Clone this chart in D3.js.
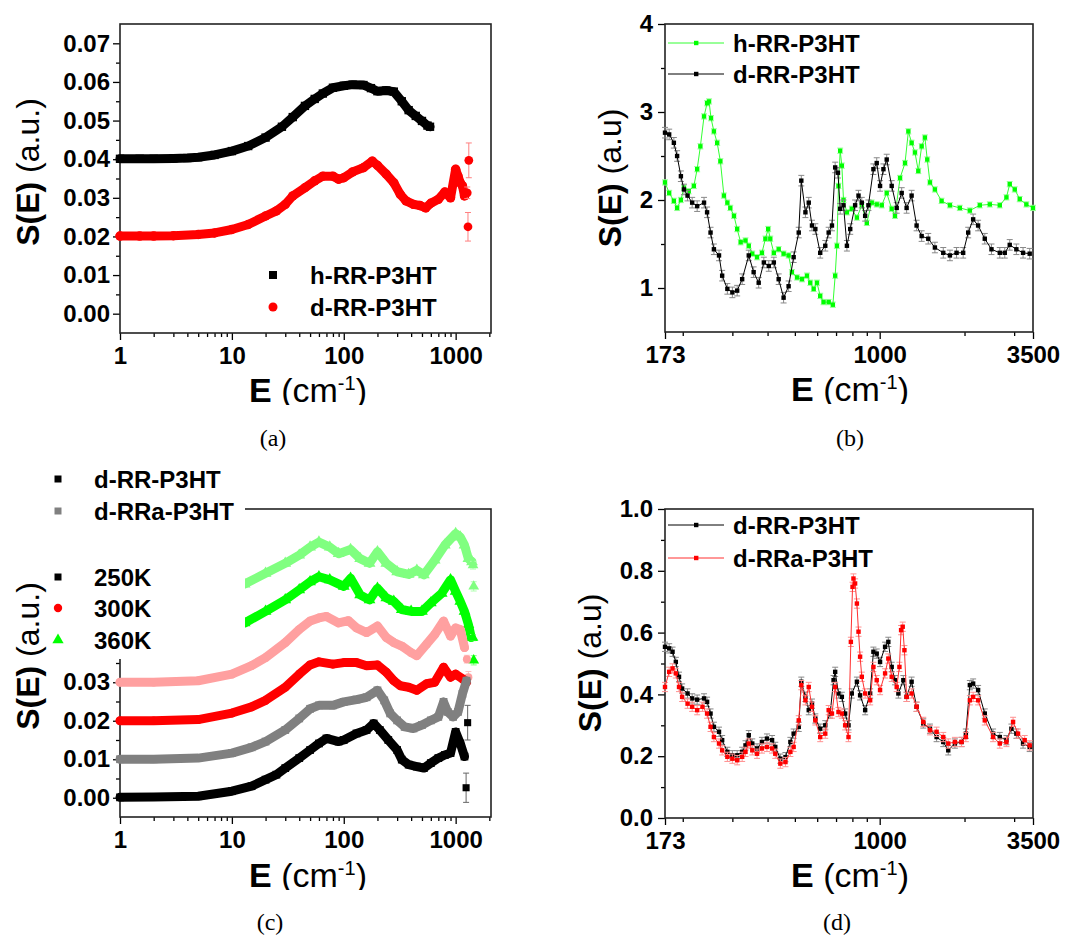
<!DOCTYPE html>
<html lang="en">
<head>
<meta charset="UTF-8">
<title>S(E) spectra of P3HT</title>
<script src="https://d3js.org/d3.v7.min.js"></script>
<style>
  body { margin: 0; background: #fff; }
  svg { display: block; font-family: 'Liberation Sans', Arial, sans-serif; }
  .tick text { font-family: 'Liberation Sans', Arial, sans-serif; font-size: 24px; font-weight: 700; fill: #000; }
  .tick line { stroke: #000; stroke-width: 1.3px; }
  .leg { font-size: 24px; font-weight: 700; fill: #000; }
  .ytitle { font-size: 32px; fill: #000; }
  .xtitle { font-size: 34px; fill: #000; }
  .caption { font-family: 'Liberation Serif', 'DejaVu Serif', serif; font-size: 24px; fill: #000; }
</style>
</head>
<body>
<svg id="fig" width="1083" height="936"></svg>
<script>
// ---- panel (a) : h-RR vs d-RR
const aE_h = [1,1.5,2,3,4,5,7,10,14,20,28,35,45,55,65,80,100,120,150,175,200,240,280,330,380,440,500,560,590];
const aS_h = [0.0401,0.0401,0.0401,0.0402,0.0403,0.0405,0.0411,0.0421,0.0434,0.0456,0.0484,0.0509,0.0538,0.0556,0.0570,0.0585,0.0590,0.0593,0.0592,0.0584,0.0576,0.0578,0.0575,0.0550,0.0527,0.0512,0.0499,0.0487,0.0484];
const aE_d = [1,1.5,2,3,5,7,10,14,20,25,30,35,45,55,65,80,90,100,120,150,180,200,240,280,320,360,420,480,540,600,700,800,900,1000,1050,1100,1150,1200];
const aS_d = [0.0201,0.0201,0.0201,0.0202,0.0205,0.0209,0.0218,0.0231,0.0253,0.0266,0.0283,0.0305,0.0326,0.0344,0.0356,0.0356,0.0348,0.0352,0.0367,0.0378,0.0395,0.0384,0.0361,0.0339,0.0309,0.0292,0.0283,0.0280,0.0274,0.0286,0.0296,0.0315,0.0300,0.0374,0.0356,0.0339,0.0331,0.0305];
const aE_dTail = [1270,1289,1311];
const aS_dTail = [0.0313,0.0225,0.0397];
const aErr_dTail = [0.0015,0.0037,0.0045];

// ---- panel (b) : 173-3500 cm-1, h-RR vs d-RR
const bE_h = [173,179,186,191,197,202,210,219,225,231,238,244,248,252,258,265,272,280,288,295,304,312,321,334,343,353,367,382,393,402,409,421,438,456,475,488,509,530,552,567,583,599,615,632,659,682,695,705,714,724,734,744,765,796,830,864,900,937,976,1017,1059,1103,1133,1181,1230,1264,1298,1334,1371,1409,1447,1475,1508,1570,1658,1775,1925,2089,2266,2459,2668,2817,2894,3015,3140,3315,3500];
const bS_h = [2.20,2.08,1.99,1.91,2.00,2.14,2.10,2.16,2.35,2.61,2.95,3.10,3.12,2.93,2.78,2.65,2.44,2.05,1.97,1.91,1.82,1.67,1.52,1.54,1.48,1.39,1.35,1.40,1.56,1.67,1.56,1.40,1.44,1.39,1.37,1.18,1.12,1.10,1.14,1.06,0.99,1.06,0.91,0.84,0.84,0.81,1.14,1.48,2.16,2.56,2.39,2.00,1.86,1.90,1.80,1.94,1.74,1.97,1.95,1.94,2.08,1.90,1.82,2.25,2.42,2.78,2.65,2.54,2.33,2.61,2.71,2.46,2.20,2.12,1.99,1.94,1.91,1.88,1.94,1.95,1.94,2.03,2.18,2.12,2.01,1.95,1.91];
const bE_d = [173,179,186,191,197,202,208,216,225,238,244,251,258,269,276,288,300,312,325,343,357,372,388,404,421,438,456,475,495,516,527,545,560,575,591,615,641,659,677,695,711,724,744,765,786,818,841,864,888,912,950,976,1003,1031,1059,1103,1149,1197,1246,1298,1352,1409,1487,1570,1681,1775,1874,1978,2061,2146,2235,2360,2493,2668,2779,2894,3055,3227,3407];
const bS_d = [2.765,2.745,2.65,2.50,2.27,2.12,2.05,1.97,1.93,1.97,1.86,1.63,1.44,1.37,1.14,0.99,0.95,0.97,1.10,1.37,1.18,1.06,1.29,1.25,1.29,1.10,0.89,1.02,1.35,1.63,2.22,1.86,1.97,1.71,1.67,1.40,1.48,1.63,1.71,2.37,2.31,1.90,1.94,1.48,1.67,1.94,2.05,1.97,1.82,1.94,2.35,2.42,2.16,2.35,2.46,2.16,1.91,2.08,1.91,2.05,1.71,1.59,1.56,1.46,1.40,1.37,1.40,1.40,1.63,1.78,1.71,1.56,1.44,1.40,1.40,1.49,1.44,1.40,1.39];
const bErr_h = 0.03;
const bErr_d = 0.06;

// ---- panel (c) : temperature series, offset curves
const cE_rr250 = [1,2,5,10,15,20,25,30,40,50,60,70,90,100,130,160,185,210,250,300,330,380,450,520,600,700,800,900,1000,1100,1200];
const cS_rr250 = [0.0001,0.0002,0.0004,0.0017,0.0030,0.0047,0.0060,0.0077,0.0103,0.0124,0.0141,0.0154,0.0146,0.0150,0.0167,0.0176,0.0193,0.0176,0.0150,0.0124,0.0099,0.0086,0.0081,0.0077,0.0090,0.0103,0.0111,0.0116,0.0171,0.0141,0.0107];
const cE_rr250Tail = [1240,1280];
const cS_rr250Tail = [0.0026,0.0195];
const cErr_rr250Tail = [0.0038,0.0045];
const cE_rra250 = [1,2,5,10,15,20,30,40,50,60,80,100,130,160,200,230,260,300,350,420,500,600,700,780,850,950,1050,1150,1250];
const cS_rra250 = [0.0100,0.0100,0.0103,0.0116,0.0131,0.0146,0.0176,0.0206,0.0231,0.0240,0.0240,0.0249,0.0255,0.0261,0.0279,0.0253,0.0219,0.0201,0.0184,0.0180,0.0189,0.0201,0.0210,0.0249,0.0223,0.0210,0.0223,0.0270,0.0304];
const cE_rr300 = [1,2,5,10,15,20,30,40,50,60,80,100,130,160,200,240,280,320,380,450,550,650,780,900,1000,1150,1250];
const cS_rr300 = [0.0200,0.0200,0.0203,0.0220,0.0236,0.0253,0.0287,0.0321,0.0345,0.0353,0.0347,0.0351,0.0351,0.0343,0.0345,0.0326,0.0304,0.0291,0.0287,0.0279,0.0296,0.0300,0.0339,0.0313,0.0321,0.0309,0.0300];
const cE_rra300 = [1,2,5,10,15,20,30,40,50,60,70,90,110,130,160,200,240,280,330,400,450,550,650,780,900,1000,1100,1200];
const cS_rra300 = [0.0300,0.0300,0.0304,0.0321,0.0343,0.0364,0.0403,0.0437,0.0459,0.0467,0.0471,0.0454,0.0460,0.0441,0.0429,0.0446,0.0416,0.0403,0.0394,0.0377,0.0369,0.0399,0.0424,0.0459,0.0420,0.0441,0.0437,0.0390];
const cE_rra300Tail = [1260,1300];
const cS_rra300Tail = [0.0360,0.0313];
const cErr_rra300Tail = [0.0010,0.0015];
const cE_rr360 = [13,20,30,40,50,60,75,100,115,140,170,200,240,280,330,400,500,600,750,900,1000,1100,1200,1300,1380];
const cS_rr360 = [0.0454,0.0484,0.0514,0.0540,0.0561,0.0574,0.0566,0.0549,0.0570,0.0527,0.0514,0.0544,0.0519,0.0510,0.0489,0.0484,0.0484,0.0506,0.0531,0.0566,0.0536,0.0510,0.0484,0.0450,0.0416];
const cE_rr360Tail = [1430,1450];
const cS_rr360Tail = [0.0416,0.0357];
const cErr_rr360Tail = [0.0008,0.0012];
const cE_rra360 = [13,20,30,40,50,60,75,90,115,140,170,200,240,300,380,450,520,650,800,1000,1100,1200,1300,1400];
const cS_rra360 = [0.0555,0.0583,0.0609,0.0630,0.0651,0.0664,0.0651,0.0634,0.0645,0.0621,0.0609,0.0639,0.0609,0.0587,0.0580,0.0591,0.0579,0.0617,0.0656,0.0686,0.0677,0.0656,0.0621,0.0613];
const cE_rra360Tail = [1430,1450];
const cS_rra360Tail = [0.0604,0.0549];
const cErr_rra360Tail = [0.0010,0.0012];

// ---- panel (d) : 173-3500 cm-1, d-RR vs d-RRa
const dE_rr = [173,179,184,189,194,199,208,216,225,238,244,251,258,269,276,288,300,312,325,334,343,353,367,382,398,415,426,444,463,482,495,516,527,545,560,575,591,615,641,667,686,695,714,734,754,775,796,830,852,888,925,950,976,1003,1045,1073,1103,1133,1165,1213,1246,1298,1352,1428,1508,1592,1681,1751,1849,1952,2022,2089,2146,2235,2360,2526,2668,2817,2934,3055,3227,3407];
const dS_rr = [0.554,0.549,0.538,0.505,0.457,0.419,0.403,0.387,0.383,0.387,0.376,0.338,0.295,0.279,0.252,0.214,0.203,0.203,0.214,0.235,0.268,0.241,0.225,0.246,0.257,0.252,0.230,0.192,0.197,0.246,0.273,0.295,0.441,0.392,0.349,0.370,0.322,0.289,0.300,0.338,0.446,0.473,0.403,0.392,0.338,0.300,0.403,0.441,0.397,0.349,0.403,0.538,0.532,0.505,0.554,0.570,0.489,0.446,0.403,0.446,0.392,0.441,0.360,0.306,0.289,0.262,0.246,0.219,0.241,0.246,0.273,0.430,0.435,0.414,0.338,0.273,0.262,0.252,0.289,0.273,0.241,0.230];
const dE_rra = [173,179,184,189,194,199,208,216,225,235,244,251,258,269,276,288,300,312,325,334,343,353,367,382,398,415,426,444,463,482,495,516,527,545,560,575,591,615,641,659,677,695,714,734,754,775,790,801,807,818,830,841,852,864,888,925,950,976,1003,1045,1073,1103,1149,1175,1191,1207,1224,1246,1298,1352,1428,1508,1592,1681,1751,1849,1952,2022,2089,2146,2235,2360,2526,2668,2817,2974,3097,3270,3407];
const dS_rra = [0.424,0.473,0.484,0.468,0.424,0.392,0.370,0.360,0.349,0.360,0.338,0.295,0.262,0.241,0.219,0.198,0.192,0.187,0.198,0.214,0.241,0.219,0.208,0.225,0.230,0.225,0.208,0.176,0.181,0.214,0.230,0.316,0.430,0.381,0.424,0.360,0.316,0.262,0.273,0.349,0.338,0.424,0.343,0.338,0.300,0.262,0.570,0.748,0.775,0.759,0.694,0.603,0.522,0.457,0.403,0.381,0.489,0.446,0.414,0.468,0.516,0.457,0.424,0.489,0.608,0.619,0.543,0.392,0.403,0.360,0.311,0.284,0.279,0.262,0.241,0.246,0.246,0.262,0.381,0.392,0.381,0.316,0.262,0.241,0.246,0.311,0.273,0.252,0.235];
const dErr = 0.015;

// ticks
const logMajor = [1,10,100,1000];
const logMinor = [2,3,4,5,6,7,8,9,20,30,40,50,60,70,80,90,200,300,400,500,600,700,800,900,2000];
const wideMajor = [173,1000,3500];
const wideMinor = [200,300,400,500,600,700,800,900,2000,3000];

const svg = d3.select("#fig");

function axes(box, x, y, o) {
  const g = svg.append("g");
  g.append("g").attr("transform", `translate(0,${box.b})`)
    .call(d3.axisBottom(x).tickValues(o.xMinor).tickSize(4).tickFormat(""));
  g.append("g").attr("transform", `translate(0,${box.b})`)
    .call(d3.axisBottom(x).tickValues(o.xMajor).tickSize(7).tickPadding(7).tickFormat(d3.format("d")));
  g.append("g").attr("transform", `translate(${box.l},0)`)
    .call(d3.axisLeft(y).tickValues(o.yMinor).tickSize(4).tickFormat(""));
  g.append("g").attr("transform", `translate(${box.l},0)`)
    .call(d3.axisLeft(y).tickValues(o.yMajor).tickSize(7).tickPadding(o.yPad).tickFormat(d3.format(o.yFmt)));
  g.selectAll(".domain").remove();
  g.append("rect")
    .attr("x", box.l).attr("y", box.t).attr("width", box.r - box.l).attr("height", box.b - box.t)
    .attr("fill", "none").attr("stroke", "#222").attr("stroke-width", 1.6);
}

function xTitle(cx, by, clipY) {
  const id = "clip" + Math.round(cx) + "_" + Math.round(by);
  svg.append("clipPath").attr("id", id)
    .append("rect").attr("x", cx - 200).attr("y", by - 60).attr("width", 400).attr("height", clipY - by + 60);
  const t = svg.append("text").attr("class", "xtitle").attr("clip-path", `url(#${id})`)
    .attr("x", cx).attr("y", by).attr("text-anchor", "middle");
  t.append("tspan").attr("font-weight", 700).text("E");
  t.append("tspan").text(" (cm");
  t.append("tspan").attr("font-size", 20).attr("dy", -12).text("-1");
  t.append("tspan").attr("dy", 12).text(")");
}

function yTitle(bx, cy, unit) {
  const t = svg.append("text").attr("class", "ytitle")
    .attr("transform", `translate(${bx},${cy}) rotate(-90)`).attr("text-anchor", "middle");
  t.append("tspan").attr("font-weight", 700).text("S(E)");
  t.append("tspan").text(" " + unit);
}

function caption(cx, by, s) {
  svg.append("text").attr("class", "caption").attr("x", cx).attr("y", by)
    .attr("text-anchor", "middle").text(s);
}

// thick dense-marker band used in (a) and (c)
function band(x, y, E, S, color, width, sym, size) {
  const pts = E.map((e, i) => [x(e), y(S[i])]);
  svg.append("path").attr("d", d3.line()(pts))
    .attr("fill", "none").attr("stroke", color).attr("stroke-width", width)
    .attr("stroke-linejoin", "round").attr("stroke-linecap", "round");
  svg.append("g").selectAll("path").data(pts).join("path")
    .attr("transform", d => `translate(${d[0]},${d[1]})`)
    .attr("d", d3.symbol(sym, size)).attr("fill", color);
}

function tail(x, y, E, S, err, color, barColor, sym, size) {
  const g = svg.append("g");
  E.forEach((e, i) => {
    const px = x(e), y0 = y(S[i] - err[i]), y1 = y(S[i] + err[i]);
    g.append("line").attr("x1", px).attr("x2", px).attr("y1", y0).attr("y2", y1).attr("stroke", barColor);
    [y0, y1].forEach(yy => g.append("line").attr("x1", px - 3).attr("x2", px + 3).attr("y1", yy).attr("y2", yy).attr("stroke", barColor));
    g.append("path").attr("transform", `translate(${px},${y(S[i])})`)
      .attr("d", d3.symbol(sym, size)).attr("fill", color);
  });
}

// thin line + small squares + error bars used in (b) and (d)
function errSeries(x, y, E, S, err, color, lineColor, barColor) {
  const g = svg.append("g");
  E.forEach((e, i) => {
    const px = x(e), y0 = y(S[i] - err), y1 = y(S[i] + err);
    g.append("line").attr("x1", px).attr("x2", px).attr("y1", y0).attr("y2", y1).attr("stroke", barColor);
    [y0, y1].forEach(yy => g.append("line").attr("x1", px - 3).attr("x2", px + 3).attr("y1", yy).attr("y2", yy).attr("stroke", barColor));
  });
  g.append("path").attr("d", d3.line().x((d, i) => x(E[i])).y(d => y(d))(S))
    .attr("fill", "none").attr("stroke", lineColor).attr("stroke-width", 1);
  g.selectAll("rect").data(S).join("rect")
    .attr("x", (d, i) => x(E[i]) - 2.2).attr("y", d => y(d) - 2.2)
    .attr("width", 4.4).attr("height", 4.4).attr("fill", color);
}

function lineLegend(x0, yy, color, barColor, label) {
  svg.append("line").attr("x1", x0).attr("x2", x0 + 56).attr("y1", yy).attr("y2", yy).attr("stroke", barColor).attr("stroke-width", 1);
  svg.append("rect").attr("x", x0 + 26).attr("y", yy - 2.2).attr("width", 4.4).attr("height", 4.4).attr("fill", color);
  svg.append("text").attr("class", "leg").attr("x", x0 + 65).attr("y", yy + 9).text(label);
}

function symLegend(cx, cy, tx, color, sym, size, label) {
  svg.append("path").attr("transform", `translate(${cx},${cy})`).attr("d", d3.symbol(sym, size)).attr("fill", color);
  svg.append("text").attr("class", "leg").attr("x", tx).attr("y", cy + 9).text(label);
}

const yMajorS = [0,0.01,0.02,0.03,0.04,0.05,0.06,0.07];
const yMinorS = [0.005,0.015,0.025,0.035,0.045,0.055,0.065];

// ================= (a)
const boxA = {l: 120, r: 491, t: 24, b: 333};
const xA = d3.scaleLog().domain([1, 2070]).range([boxA.l, boxA.r]);
const yA = d3.scaleLinear().domain([-0.005, 0.075]).range([boxA.b, boxA.t]);
axes(boxA, xA, yA, {xMajor: logMajor, xMinor: logMinor, yMajor: yMajorS, yMinor: yMinorS, yFmt: ".2f", yPad: 3});
band(xA, yA, aE_h, aS_h, "#000", 9, d3.symbolSquare, 70);
band(xA, yA, aE_d, aS_d, "#ff0000", 9, d3.symbolCircle, 70);
tail(xA, yA, aE_dTail, aS_dTail, aErr_dTail, "#ff0000", "#ff8080", d3.symbolCircle, 60);
symLegend(273, 275, 310, "#000", d3.symbolSquare, 64, "h-RR-P3HT");
symLegend(273, 307, 310, "#ff0000", d3.symbolCircle, 64, "d-RR-P3HT");
yTitle(39, 172, "(a.u.)");
xTitle(308, 402, 405);
caption(273, 446, "(a)");

// ================= (b)
const boxB = {l: 665, r: 1033, t: 24, b: 332};
const xB = d3.scaleLog().domain([173, 3500]).range([boxB.l, boxB.r]);
const yB = d3.scaleLinear().domain([0.5, 4]).range([boxB.b, boxB.t]);
axes(boxB, xB, yB, {xMajor: wideMajor, xMinor: wideMinor, yMajor: [1,2,3,4], yMinor: [1.5,2.5,3.5], yFmt: "d", yPad: 5});
errSeries(xB, yB, bE_h, bS_h, bErr_h, "#00ff00", "#33ff33", "#99ff99");
errSeries(xB, yB, bE_d, bS_d, bErr_d, "#000", "#000", "#888");
lineLegend(668, 43, "#00ff00", "#33ff33", "h-RR-P3HT");
lineLegend(668, 74, "#000", "#000", "d-RR-P3HT");
yTitle(621, 178, "(a.u)");
xTitle(850, 401, 404);
caption(850, 446, "(b)");

// ================= (c)
const boxC = {l: 120, r: 491, t: 509, b: 817};
const xC = d3.scaleLog().domain([1, 2070]).range([boxC.l, boxC.r]);
const yC = d3.scaleLinear().domain([-0.005, 0.075]).range([boxC.b, boxC.t]);
axes(boxC, xC, yC, {xMajor: logMajor, xMinor: logMinor, yMajor: [0,0.01,0.02,0.03], yMinor: [0.005,0.015,0.025,0.035], yFmt: ".2f", yPad: 3});
band(xC, yC, cE_rra360, cS_rra360, "#80ff80", 9, d3.symbolTriangle, 60);
tail(xC, yC, cE_rra360Tail, cS_rra360Tail, cErr_rra360Tail, "#80ff80", "#b0ffb0", d3.symbolTriangle, 50);
band(xC, yC, cE_rr360, cS_rr360, "#00ff00", 9, d3.symbolTriangle, 60);
tail(xC, yC, cE_rr360Tail, cS_rr360Tail, cErr_rr360Tail, "#00ff00", "#80ff80", d3.symbolTriangle, 50);
band(xC, yC, cE_rra300, cS_rra300, "#ffa0a0", 9, d3.symbolCircle, 60);
tail(xC, yC, cE_rra300Tail, cS_rra300Tail, cErr_rra300Tail, "#ffa0a0", "#ffc0c0", d3.symbolCircle, 50);
band(xC, yC, cE_rr300, cS_rr300, "#ff0000", 9, d3.symbolCircle, 60);
band(xC, yC, cE_rra250, cS_rra250, "#808080", 9, d3.symbolSquare, 60);
band(xC, yC, cE_rr250, cS_rr250, "#000", 9, d3.symbolSquare, 60);
tail(xC, yC, cE_rr250Tail, cS_rr250Tail, cErr_rr250Tail, "#000", "#666", d3.symbolSquare, 50);
// legend sits on a white box over the upper-left corner of the frame
svg.append("rect").attr("x", 0).attr("y", 460).attr("width", 245).attr("height", 199).attr("fill", "#fff");
symLegend(58, 479, 94, "#000", d3.symbolSquare, 49, "d-RR-P3HT");
symLegend(58, 511, 94, "#808080", d3.symbolSquare, 49, "d-RRa-P3HT");
symLegend(58, 577, 94, "#000", d3.symbolSquare, 49, "250K");
symLegend(58, 608, 94, "#ff0000", d3.symbolCircle, 55, "300K");
symLegend(58, 640, 94, "#00ff00", d3.symbolTriangle, 55, "360K");
yTitle(39, 656, "(a.u.)");
xTitle(308, 887, 890);
caption(270, 930, "(c)");

// ================= (d)
const boxD = {l: 665, r: 1033, t: 509, b: 818};
const xD = d3.scaleLog().domain([173, 3500]).range([boxD.l, boxD.r]);
const yD = d3.scaleLinear().domain([0, 1]).range([boxD.b, boxD.t]);
axes(boxD, xD, yD, {xMajor: wideMajor, xMinor: wideMinor, yMajor: [0,0.2,0.4,0.6,0.8,1.0], yMinor: [0.1,0.3,0.5,0.7,0.9], yFmt: ".1f", yPad: 5});
errSeries(xD, yD, dE_rr, dS_rr, dErr, "#000", "#000", "#888");
errSeries(xD, yD, dE_rra, dS_rra, dErr, "#ff0000", "#ff3030", "#ff9090");
lineLegend(668, 525, "#000", "#000", "d-RR-P3HT");
lineLegend(668, 558, "#ff0000", "#ff3030", "d-RRa-P3HT");
yTitle(601, 663, "(a.u)");
xTitle(850, 887, 900);
caption(837, 930, "(d)");
</script>
</body>
</html>
